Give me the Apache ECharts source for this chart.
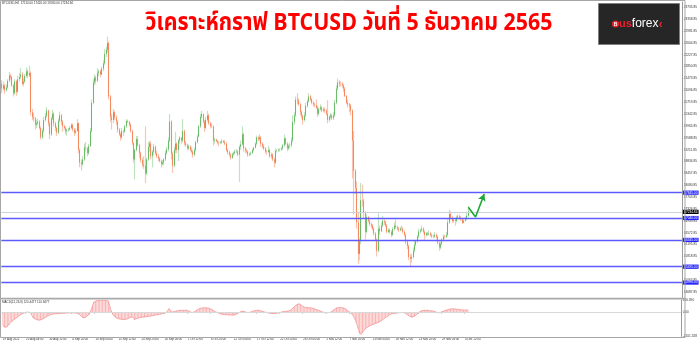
<!DOCTYPE html>
<html><head><meta charset="utf-8">
<script src="https://cdn.jsdelivr.net/npm/echarts@6/dist/echarts.min.js"></script>
<style>html,body{margin:0;padding:0;background:#fff}#c{width:700px;height:342px}</style>
</head><body><div id="c"></div>
<script>
// ---------- texts ----------
const titleText = 'วิเคราะห์กราฟ BTCUSD วันที่ 5 ธันวาคม 2565';
const headerText = 'BTCUSD,H4  17110.00 17420.00 17080.00 17234.84';
const macdHeader = 'MACD(12,26,9) 120.4477 110.9477';

// ---------- x-axis tick labels (one every 16 bars) ----------
const timeLabels = ['19 Aug 2022','25 Aug 04:00','30 Aug 12:00','4 Sep 20:00','10 Sep 04:00','15 Sep 12:00',
  '20 Sep 20:00','26 Sep 04:00','1 Oct 12:00','6 Oct 20:00','12 Oct 04:00','17 Oct 12:00','22 Oct 20:00',
  '28 Oct 04:00','2 Nov 12:00','7 Nov 20:00','13 Nov 04:00','18 Nov 12:00','23 Nov 20:00','29 Nov 04:00','4 Dec 12:00'];

// ---------- price-axis tick labels ----------
const yTickValues = [23735.85,23358.85,22981.85,22604.85,22227.85,21850.85,21473.85,21096.85,20719.85,20342.85,
  19965.85,19588.85,19211.85,18834.85,18457.85,18080.85,17703.85,17326.85,16949.85,16572.85,16195.85,
  15818.85,15441.85,15064.85,14687.85];
const macdAxisValues = [616.390, 0, -1201.328];

// ---------- horizontal levels ----------
const levels = [17845, 17040, 16345, 15495, 14990];
const lastPrice = 17234.84;
const arrowPath = [[322, 17380], [327, 17072], [333, 17802]];

// ---------- candles [open, close, low, high] ----------
const ohlcAug = [
 [21300,21150,21000,21420],
 [21150,21250,21080,21380],[21250,21100,20980,21300],[21100,21180,21050,21290],
 [21180,21400,21150,21450],[21400,21560,21350,21680],[21560,21520,21440,21620],
 [21520,21250,21200,21560],[21250,21000,20900,21300],[21000,21380,20950,21450],
 [21380,21050,20920,21420],[21050,21450,21000,21550],[21450,21520,21380,21650],
 [21520,21600,21450,21800],[21600,21300,21250,21680],[21300,21370,21220,21480],
 [21370,21550,21330,21620],[21550,21700,21500,21820],[21700,21570,21480,21760],
 [21570,21650,21520,21880],[21650,20400,20300,21700],[20400,20250,20150,20500],
 [20250,20200,20100,20380],[20200,20000,19850,20250],[20000,20050,19900,20150],
 [20050,20100,19980,20200],[20100,19900,19850,20150],[19900,19600,19530,19950],
 [19600,19800,19550,19880],[19800,20150,19750,20250],[20150,20280,20100,20380],
 [20280,20450,20220,20560],[20450,20050,19950,20480],[20050,19700,19550,20100],
 [19700,20200,19650,20250],[20200,20350,20150,20480],[20350,20050,19950,20400]
];
const ohlcSep = [
 [20050,19900,19800,20100],[19900,19750,19650,19950],[19750,20130,19700,20200],
 [20130,20300,20080,20420],[20300,20100,20000,20350],[20100,19950,19780,20150],
 [19950,19900,19850,20000],[19900,19800,19700,19950],[19800,19830,19650,19880],
 [19830,19850,19780,19900],[19850,19900,19820,19960],[19900,20000,19860,20050],
 [20000,19850,19780,20040],[19850,19750,19650,19900],[19750,19800,19700,19880],
 [19800,20050,19780,20180],[20050,19200,19100,20080],[19200,18800,18650,19250],
 [18800,18750,18550,18900],[18750,18900,18700,19000],[18900,19280,18850,19400],
 [19280,19250,19150,19450],[19250,19100,19000,19300],[19100,19320,19050,19400],
 [19320,19800,19300,19900],[19800,20700,19750,20800],[20700,21350,20650,21450],
 [21350,21500,21250,21600],[21500,21400,21300,21560],[21400,21650,21350,21800],
 [21650,21700,21550,21760],[21700,21600,21500,21750],[21600,21780,21580,21850],
 [21780,21950,21700,22050],[21950,22250,21900,22400],[22250,22380,22150,22480],
 [22380,22600,22300,22800],[22600,20900,20800,22650],[20900,20250,20100,20950],
 [20250,20150,19850,20350],[20150,20400,20050,20500],[20400,20230,20150,20450],
 [20230,20100,20000,20300],[20100,19850,19750,20150],[19850,19700,19650,19900],
 [19700,19600,19500,19750],[19600,19800,19550,19900],[19800,19780,19650,19850],
 [19780,19950,19750,20000],[19950,20120,19900,20180],[20120,20100,20050,20160],
 [20100,20000,19950,20130],[20000,19800,19750,20050],[19800,19420,19360,19850],
 [19420,18900,18800,19450],[18900,19200,18270,19250],[19200,19550,19150,19650],
 [19550,19350,19300,19640],[19350,19100,18950,19400],[19100,18880,18800,19150],
 [18880,18750,18650,18950],[18750,18700,18600,19000],[18700,18450,18150,19950],
 [18450,18900,18400,18950],[18900,19300,18850,19450],[19300,19410,19150,19500],
 [19410,19000,18900,19480],[19000,19150,18650,19200],[19150,19300,19050,19400],
 [19300,19100,19050,19350],[19100,19000,18950,19180],[19000,18930,18850,19080],
 [18930,18850,18800,18980],[18850,18750,18640,18900],[18750,18800,18700,18880],
 [18800,18900,18720,18950],[18900,19100,18850,19180],[19100,19220,19050,19300],
 [19220,19500,19150,19600],[19500,20100,19450,20350],[20100,19080,18900,20150],
 [19080,18700,18470,19150],[18700,19200,18650,19300],[19200,19400,19100,19780],
 [19400,19200,19100,19450],[19200,19500,18850,19550],[19500,19590,19400,19640],
 [19590,19500,19400,19620],[19500,19800,19450,20180],[19800,19420,19350,19850]
];
const ohlcOct = [
 [19420,19350,19300,19480],[19350,19250,19200,19400],[19250,19310,19200,19380],
 [19310,19200,19150,19350],[19200,19150,19100,19280],[19150,19050,18950,19200],
 [19050,19200,19000,19280],[19200,19450,19150,19500],[19450,19620,19400,19690],
 [19620,19950,19600,20000],[19950,20250,19900,20350],[20250,20340,20200,20450],
 [20340,20100,20050,20360],[20100,19900,19770,20150],[19900,20160,19850,20250],
 [20160,20300,20100,20440],[20300,20050,20000,20350],[20050,19960,19880,20100],
 [19960,19950,19900,20050],[19950,19500,19340,19980],[19500,19530,19400,19600],
 [19530,19480,19450,19560],[19480,19430,19380,19520],[19430,19420,19320,19480],
 [19420,19440,19380,19490],[19440,19480,19400,19550],[19480,19450,19420,19520],
 [19450,19400,19350,19520],[19400,19200,19150,19450],[19200,19130,19050,19250],
 [19130,19050,19000,19180],[19050,18950,18890,19100],[18950,19060,18920,19120],
 [19060,19100,19020,19150],[19100,19150,19050,19220],[19150,19160,19100,19230],
 [19160,19050,19000,19200],[19050,19300,18190,19350],[19300,19380,19200,19500],
 [19380,19700,19350,19950],[19700,19250,19150,19750],[19250,19190,19100,19300],
 [19190,19150,19100,19230],[19150,19050,18980,19180],[19050,19070,19000,19120],
 [19070,19100,19030,19150],[19100,19200,19080,19250],[19200,19270,19150,19300],
 [19270,19400,19250,19450],[19400,19600,19350,19660],[19600,19550,19480,19640],
 [19550,19600,19500,19700],[19600,19400,19300,19650],[19400,19330,19250,19450],
 [19330,19250,19200,19380],[19250,19150,19100,19300],[19150,19140,19050,19200],
 [19140,19200,19100,19340],[19200,19000,18950,19250],[19000,19050,18920,19120],
 [19050,18900,18850,19100],[18900,18800,18650,18950],[18800,19170,18750,19250],
 [19170,19180,19120,19230],[19180,19200,19140,19260],[19200,19210,19150,19250],
 [19210,19250,19180,19300],[19250,19350,19200,19400],[19350,19570,19300,19690],
 [19570,19400,19350,19600],[19400,19250,19160,19450],[19250,19330,19200,19380],
 [19330,19350,19250,19420],[19350,19500,19300,19600],[19500,20090,19450,20300],
 [20090,20300,20000,20400],[20300,20800,20250,20900],[20800,20770,20650,21000],
 [20770,20650,20600,20850],[20650,20400,20300,20700],[20400,20290,20200,20450],
 [20290,20150,20000,20320],[20150,20300,20100,20400],[20300,20600,20250,20700],
 [20600,20750,20550,20800],[20750,20900,20700,21000],[20900,20820,20750,20950],
 [20820,20700,20650,20850],[20700,20650,20580,20760],[20650,20630,20550,20700],
 [20630,20550,20500,20800],[20550,20350,20250,20600],[20350,20500,20300,20550]
];
const ohlcNov = [
 [20500,20550,20450,20650],[20550,20450,20400,20600],[20450,20490,20400,20550],
 [20490,20450,20380,20550],[20450,20350,20300,20500],[20350,20160,20050,20780],
 [20160,20250,20100,20300],[20250,20300,20180,20380],[20300,20210,20150,20350],
 [20210,20300,20150,20400],[20300,20700,20250,20800],[20700,21150,20650,21250],
 [21150,21350,21100,21470],[21350,21300,21200,21420],[21300,21300,21220,21380],
 [21300,21250,21180,21350],[21250,21150,21050,21300],[21150,20910,20880,21200],
 [20910,20700,20650,20950],[20700,20650,20550,20800],[20650,20600,20400,20700],
 [20600,20450,20300,20670],[20450,19500,18300,20500],[19500,18540,17150,19800],
 [18540,18000,17800,18600],[18000,16900,16700,18200],[16900,15900,15590,17200],
 [15900,16300,15700,16400],[16300,17600,16200,18150],[17600,17590,17400,18100],
 [17590,17200,17050,17650],[17200,16600,16360,17250],[16600,17070,16550,17150],
 [17070,16950,16900,17100],[16950,16850,16780,17000],[16850,16800,16720,16900],
 [16800,16700,16650,16850],[16700,16550,16480,16750],[16550,16350,16300,16600],
 [16350,16000,15820,16400],[16000,16700,15950,17190],[16700,16620,16500,16800],
 [16620,16800,16600,16900],[16800,16950,16750,17100],[16950,16900,16820,17000],
 [16900,16800,16750,16950],[16800,16600,16550,16850],[16600,16660,16560,16720],
 [16660,16600,16550,16700],[16600,16500,16430,16650],[16500,16690,16480,16750],
 [16690,16800,16650,16900],[16800,16750,16700,17000],[16750,16700,16650,16800],
 [16700,16650,16600,16750],[16650,16700,16620,16760],[16700,16700,16650,16800],
 [16700,16600,16550,16750],[16600,16500,16450,16650],[16500,16290,16200,16550],
 [16290,16150,16050,16350],[16150,15800,15700,16200],[15800,15750,15480,15900],
 [15750,15800,15620,15900],[15800,16000,15750,16100],[16000,16190,15950,16300],
 [16190,16300,16150,16350],[16300,16450,16250,16500],[16450,16610,16400,16700],
 [16610,16650,16550,16700],[16650,16700,16600,16800],[16700,16600,16550,16750],
 [16600,16500,16350,16650],[16500,16550,16450,16600],[16550,16520,16480,16600],
 [16520,16550,16480,16650],[16550,16500,16450,16600],[16500,16460,16400,16550],
 [16460,16450,16400,16520],[16450,16500,16420,16600],[16500,16440,16380,16550],
 [16440,16250,16200,16480],[16250,16100,16000,16300],[16100,16220,16050,16280],
 [16220,16350,16180,16400],[16350,16450,16300,16520],[16450,16440,16380,16500],
 [16440,16500,16400,16600],[16500,16900,16450,17000],[16900,17170,16850,17300]
];
const ohlcDec = [
 [17170,17050,17000,17250],[17050,16950,16880,17100],[16950,16980,16900,17050],
 [16980,16950,16800,17020],[16950,17050,16900,17120],[17050,17090,17000,17150],
 [17090,17050,17000,17150],[17050,17000,16950,17100],[17000,16890,16850,17050],
 [16890,16950,16880,17000],[16950,17000,16920,17080],[17000,17110,16980,17200],
 [17110,17250,17080,17420]
];

// ---------- MACD histogram values (one per bar) ----------
const macd = [
 -700,-760,-765,-720,-640,-520,-460,-410,-360,-300,-240,-190,-140,-90,-50,-20,0,5,0,
 -20,-120,-290,-340,-370,-390,-400,-395,-370,-330,-280,-230,-190,-150,-120,-100,-90,
 -80,-75,-70,-65,-60,-55,-50,-50,-45,-40,-35,-30,-30,-35,-40,-50,-60,-110,-180,-260,
 -310,-270,-200,-150,-120,100,330,515,560,575,590,600,610,616,610,600,590,560,
 270,60,-100,-200,-270,-310,-330,-350,-360,-365,-370,-370,-340,-300,-270,-250,-230,
 -370,-340,-310,-290,-270,-260,-250,-240,-230,-220,-210,-200,-185,-170,-155,-140,-125,-110,-100,
 -80,-60,-40,-20,40,180,90,0,20,40,60,80,85,90,95,95,100,100,80,50,10,-30,
 -10,40,100,150,180,200,215,225,230,225,210,190,170,120,60,20,0,-30,-60,-90,-110,-120,
 -125,-130,-135,-140,-145,-148,-150,-130,-90,-40,10,40,60,40,10,-15,-30,
 -10,20,50,75,90,100,100,80,55,30,10,0,-20,-40,-55,-65,-70,-70,-60,-45,-30,-10,10,30,
 40,50,55,60,90,140,220,300,360,410,430,400,330,270,250,240,235,230,
 220,210,190,170,140,110,80,45,15,0,-15,-25,-30,-20,0,50,110,170,210,230,
 235,230,225,220,180,130,60,20,-40,-110,-230,-380,-570,-820,-1070,-1150,-1040,-900,
 -840,-780,-730,-690,-655,-620,-600,-570,-545,-520,-480,-430,-370,
 -320,-270,-220,-150,-120,-90,-70,-55,-45,-35,-30,-20,-10,0,-30,-70,-120,-170,-220,-270,
 -240,-190,-150,-90,-20,60,80,90,95,100,95,85,75,65,60,30,0,-50,-30,0,20,
 50,80,110,130,150,165,180,175,165,155,145,135,130,120,110,100,110,120
];

// ---------- build ----------
const ohlc = ohlcAug.concat(ohlcSep, ohlcOct, ohlcNov, ohlcDec);
const bodies = ohlc.map(d => [d[0], d[1], Math.min(d[0], d[1]), Math.max(d[0], d[1])]);
const SLOTS = 470;
const categories = [];
for (let i = 0; i < SLOTS; i++) categories.push(i % 16 === 0 && i / 16 < timeLabels.length ? timeLabels[i / 16] : '');

const UP = '#45ab45', DOWN = '#f2713f', UPW = '#bfe3bf', DOWNW = '#fbc4b0';
const labelBox = (bg) => ({show: true, position: 'end', distance: 1, formatter: p => p.value.toFixed(2),
  color: '#fff', backgroundColor: bg, fontSize: 3.2, padding: [0.7, 1.2, 0.5, 1.2], fontFamily: 'Liberation Sans'});

const chart = echarts.init(document.getElementById('c'), null, {renderer: 'canvas'});
chart.setOption({
  animation: false,
  backgroundColor: '#fff',
  grid: [
    {left: 1.3, top: 2, width: 683.7, height: 296},
    {left: 1.3, top: 300, width: 683.7, height: 36}
  ],
  xAxis: [
    {type: 'category', gridIndex: 0, data: categories, boundaryGap: true,
      axisLine: {show: false}, axisTick: {show: false}, axisLabel: {show: false}, splitLine: {show: false}},
    {type: 'category', gridIndex: 1, data: categories, boundaryGap: true,
      axisLine: {show: false},
      axisTick: {show: true, length: 1.5, interval: (i, v) => v !== '', lineStyle: {color: '#888', width: 0.6}},
      axisLabel: {show: true, interval: (i, v) => v !== '', align: 'left', fontSize: 2.9, margin: 1.6,
        color: '#333', fontFamily: 'Liberation Sans'},
      splitLine: {show: false}}
  ],
  yAxis: [
    {type: 'value', gridIndex: 0, position: 'right', min: 14500, max: 23900, scale: true,
      axisLine: {show: true, lineStyle: {color: '#9a9a9a', width: 1}},
      axisTick: {show: true, inside: false, length: 1.2, customValues: yTickValues, lineStyle: {color: '#999', width: 0.6}},
      axisLabel: {show: true, customValues: yTickValues, formatter: v => v.toFixed(2), fontSize: 3.2,
        margin: 1.8, color: '#333', fontFamily: 'Liberation Sans'},
      splitLine: {show: false}},
    {type: 'value', gridIndex: 1, position: 'right', min: -1201.328, max: 616.39,
      axisLine: {show: true, lineStyle: {color: '#9a9a9a', width: 1}},
      axisTick: {show: true, length: 1.2, customValues: macdAxisValues, lineStyle: {color: '#999', width: 0.6}},
      axisLabel: {show: true, customValues: macdAxisValues, formatter: v => v === 0 ? '0.00' : v.toFixed(3),
        fontSize: 3.2, margin: 1.8, color: '#333', fontFamily: 'Liberation Sans'},
      splitLine: {show: false}}
  ],
  series: [
    {type: 'candlestick', name: 'wicks', xAxisIndex: 0, yAxisIndex: 0, data: ohlc, barWidth: 1.2,
      itemStyle: {color: UPW, color0: DOWNW, borderColor: UPW, borderColor0: DOWNW, borderColorDoji: DOWNW, borderWidth: 1.2},
      markLine: {silent: true, symbol: 'none', animation: false,
        data: levels.map(v => ({yAxis: v, lineStyle: {color: '#5b5bff', width: 1.3, type: 'solid'}, label: labelBox('#2323ff')}))
          .concat([{yAxis: lastPrice, lineStyle: {color: '#c9d1d9', width: 1, type: 'solid'}, label: labelBox('#000')}])}
    },
    {type: 'candlestick', name: 'bodies', xAxisIndex: 0, yAxisIndex: 0, data: bodies, barWidth: 1,
      itemStyle: {color: UP, color0: DOWN, borderColor: UP, borderColor0: DOWN, borderColorDoji: DOWN, borderWidth: 0.7}},
    {type: 'line', name: 'arrow', xAxisIndex: 0, yAxisIndex: 0, showAllSymbol: true,
      data: arrowPath.map((p, k) => k === arrowPath.length - 1
        ? {value: p, symbol: 'arrow', symbolSize: [6, 7], symbolRotate: -21, itemStyle: {color: '#1fa83a', borderWidth: 0}}
        : {value: p, symbol: 'none'}),
      lineStyle: {color: '#1fa83a', width: 1.6}, z: 5},
    {type: 'bar', name: 'macd', xAxisIndex: 1, yAxisIndex: 1, data: macd, barWidth: 0.9,
      itemStyle: {color: '#f9b5b5'},
      markLine: {silent: true, symbol: 'none', label: {show: false},
        data: [{yAxis: 0}], lineStyle: {color: '#d8d8d8', width: 1, type: 'solid'}}},
    {type: 'line', name: 'macdLine', xAxisIndex: 1, yAxisIndex: 1, data: macd, symbol: 'none',
      lineStyle: {color: '#f28c8c', width: 0.7}}
  ],
  graphic: [
    {type: 'text', silent: true, z: 100, x: 349, y: 25, scaleX: 0.89,
      style: {text: titleText, x: 0, y: 0, textAlign: 'center', textVerticalAlign: 'middle',
        fill: '#ff0000', fontSize: 24, fontWeight: 'bold', fontFamily: "'Noto Sans Thai','Noto Sans',sans-serif"}},
    {type: 'rect', silent: true, z: 100, shape: {x: 0.5, y: 0.5, width: 684.5, height: 337}, style: {fill: 'none', stroke: '#a6a6a6', lineWidth: 1}},
    {type: 'rect', silent: true, z: 100, shape: {x: 0, y: 297.8, width: 685, height: 1.8}, style: {fill: '#a9a9a9'}},
    {type: 'text', silent: true, z: 100, style: {text: headerText, x: 2, y: 1.6, fontSize: 3, fill: '#333', fontFamily: 'Liberation Sans', textVerticalAlign: 'top'}},
    {type: 'text', silent: true, z: 100, style: {text: macdHeader, x: 2, y: 300.3, fontSize: 3, fill: '#333', fontFamily: 'Liberation Sans', textVerticalAlign: 'top'}},
    {type: 'group', silent: true, z: 100, children: [
      {type: 'rect', shape: {x: 598.5, y: 3.5, width: 81, height: 41}, style: {fill: '#262626', stroke: '#808080', lineWidth: 1}},
      {type: 'circle', shape: {cx: 615.5, cy: 24, r: 3.6}, style: {fill: '#e3222b'}},
      {type: 'text', style: {text: 'B', x: 615.6, y: 24.2, fontSize: 5, fontWeight: 'bold', fill: '#fff', textAlign: 'center', textVerticalAlign: 'middle', fontFamily: 'Liberation Sans'}},
      {type: 'text', style: {text: '{a|us}{b|forex}{c|‹}', x: 619, y: 24, textVerticalAlign: 'middle',
        rich: {a: {fill: '#e3222b', fontSize: 11, fontWeight: 'bold', fontFamily: 'Liberation Sans'},
               b: {fill: '#ffffff', fontSize: 12, fontFamily: 'Liberation Sans'},
               c: {fill: '#e3222b', fontSize: 13, fontWeight: 'bold', fontFamily: 'Liberation Sans'}}}}
    ]}
  ]
});
</script></body></html>
